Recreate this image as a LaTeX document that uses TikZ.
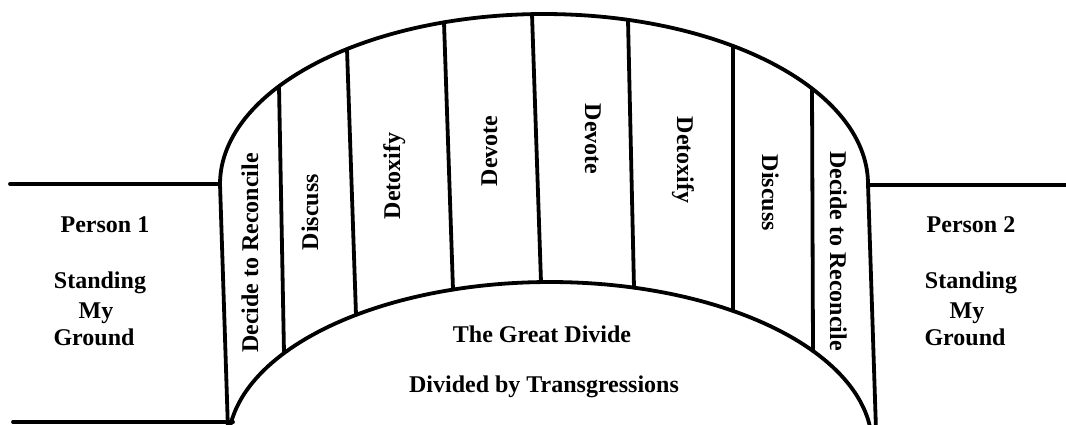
\documentclass[tikz,border=0pt]{standalone}
\usepackage{fontspec}
\setmainfont{Liberation Serif}
\tikzset{
  ln/.style={line width=3.8pt, line cap=round, line join=round},
  lbl/.style={font=\fontsize{24}{28}\selectfont\bfseries, inner sep=0pt, anchor=base},
  up/.style={lbl, rotate=90},
  down/.style={lbl, rotate=-90}
}
\begin{document}
\begin{tikzpicture}[x=1pt,y=-1pt]
\useasboundingbox (0,0) rectangle (1066,425);
\clip (0,0) rectangle (1066,425);
% ground lines
\draw[ln] (10,184) -- (220,184);
\draw[ln] (13,422) -- (233,422);
\draw[ln] (868,185) -- (1070,185);
% outer sides
\draw[ln] (220,184) -- (228,430);
\draw[ln] (868,184) -- (876,430);
% outer arch
\draw[ln] plot[domain=180:0, samples=120] ({544+324*cos(\x)}, {184-170*sin(\x)});
% inner arch
\draw[ln] plot[domain=180:0, samples=120] ({550+322*cos(\x)}, {445-163*sin(\x)});
% dividers
\foreach \xt/\xb in {279/284, 347/356, 444/453, 532/541, 628/634, 733/733, 812/813} {
  \draw[ln] (\xt, {184-170*sqrt(1-((\xt-544)/324)^2)}) -- (\xb, {445-163*sqrt(1-((\xb-550)/322)^2)});
}
% strip labels
\node[up] (l1) at (258,253) {Decide to Reconcile};
\node[up] (l2) at (318,212) {Discuss};
\node[up] (l3) at (400,176) {Detoxify};
\node[up] (l4) at (497,151) {Devote};
\node[down] (r4) at (585,139) {Devote};
\node[down] (r3) at (677,160) {Detoxify};
\node[down] (r2) at (762,193) {Discuss};
\node[down] (r1) at (830,251) {Decide to Reconcile};
% divide
\node[lbl] (gd) at (542,342) {The Great Divide};
\node[lbl] (dt) at (544,392) {Divided by Transgressions};
% persons
\node[lbl] (p1) at (105,232) {Person 1};
\node[lbl] (p1a) at (100,288) {Standing};
\node[lbl] (p1b) at (96,318) {My};
\node[lbl] (p1c) at (94,345) {Ground};
\node[lbl] (p2) at (971,232) {Person 2};
\node[lbl] (p2a) at (971,288) {Standing};
\node[lbl] (p2b) at (967,318) {My};
\node[lbl] (p2c) at (965,345) {Ground};
\end{tikzpicture}
\end{document}
